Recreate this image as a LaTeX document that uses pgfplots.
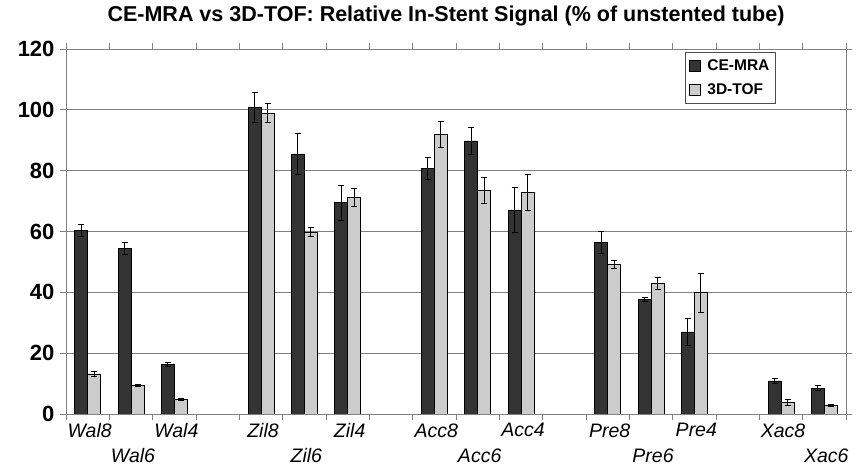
\documentclass[border=0pt]{standalone}
\usepackage{fontspec}
\setmainfont{Liberation Sans}
\usepackage{pgfplots}
\pgfplotsset{compat=1.18}
\definecolor{darkbar}{HTML}{333333}
\definecolor{lightbar}{HTML}{CCCCCC}
\definecolor{frame}{HTML}{808080}
\pgfplotsset{myerr/.style={error bars/.cd, y dir=both, y explicit,
  error bar style={black, line width=0.8pt},
  error mark options={rotate=90, mark size=3pt, black, line width=0.8pt}}}
\begin{document}
\begin{tikzpicture}
\begin{axis}[name=ax, scale only axis, width=780pt, height=365pt,
  ybar=0pt, bar width=13pt,
  xmin=-0.5, xmax=17.5, ymin=0, ymax=120,
  ytick={0,20,...,120},
  ymajorgrids, grid style={frame, line width=0.8pt},
  axis line style={frame, line width=0.8pt},
  tick style={frame, line width=0.8pt},
  tick align=outside, major tick length=6pt,
  xtick={-0.5,0.5,...,17.5}, xticklabels={},
  extra x ticks={0,1,2,4,5,6,8,9,10,12,13,14,16,17},
  extra x tick labels={Wal8,{\vphantom{Wal8}\\Wal6},Wal4,Zil8,{\vphantom{Wal8}\\Zil6},Zil4,Acc8,{\vphantom{Wal8}\\Acc6},Acc4,Pre8,{\vphantom{Wal8}\\Pre6},Pre4,Xac8,{\vphantom{Wal8}\\Xac6}},
  extra x tick style={major tick length=0pt, xticklabel style={align=center, font=\itshape\fontsize{19.5}{25}\selectfont, anchor=north, yshift=-6pt, xshift=2pt}},
  /pgf/number format/assume math mode=true,
  yticklabel style={font=\bfseries\fontsize{22}{24}\selectfont, xshift=-2pt},
  title={CE-MRA vs 3D-TOF: Relative In-Stent Signal (\% of unstented tube)},
  title style={font=\bfseries\fontsize{21.5}{25}\selectfont, at={(0.5,1)}, anchor=base, yshift=21pt, xshift=-10pt},
  legend style={at={(0.910,0.992)}, anchor=north east, draw=frame!60!black, line width=0.8pt,
    font=\bfseries\fontsize{15.5}{18}\selectfont, row sep=8pt, inner xsep=4pt, inner ysep=5pt},
  legend cell align=left,
  legend image code/.code={\draw[#1, draw=black, line width=0.6pt] (0pt,-5.5pt) rectangle (11pt,5.5pt);
    \path[use as bounding box, draw=none, fill=none] (0pt,-5.5pt) rectangle (16pt,5.5pt);},
]
\addplot[fill=darkbar, draw=black, line width=0.6pt, myerr] coordinates {
  (0,60.3) +- (0,2.0)
  (1,54.4) +- (0,2.0)
  (2,16.3) +- (0,0.6)
  (4,100.9) +- (0,4.9)
  (5,85.5) +- (0,6.7)
  (6,69.5) +- (0,5.7)
  (8,80.8) +- (0,3.6)
  (9,89.8) +- (0,4.5)
  (10,67.1) +- (0,7.4)
  (12,56.4) +- (0,3.7)
  (13,37.7) +- (0,0.7)
  (14,27.0) +- (0,4.5)
  (16,10.9) +- (0,0.7)
  (17,8.5) +- (0,0.8)
};
\addlegendentry{CE-MRA}
\addplot[fill=lightbar, draw=black, line width=0.6pt, myerr] coordinates {
  (0,13.2) +- (0,0.8)
  (1,9.3) +- (0,0.3)
  (2,4.8) +- (0,0.3)
  (4,98.9) +- (0,3.1)
  (5,59.8) +- (0,1.5)
  (6,71.2) +- (0,3.1)
  (8,91.8) +- (0,4.3)
  (9,73.5) +- (0,4.4)
  (10,72.8) +- (0,5.9)
  (12,49.2) +- (0,1.4)
  (13,42.9) +- (0,2.1)
  (14,39.9) +- (0,6.4)
  (16,3.9) +- (0,1.0)
  (17,2.8) +- (0,0.3)
};
\addlegendentry{3D-TOF}
\end{axis}
\path ([shift={(-66pt,-51pt)}]ax.south west) rectangle ([shift={(10pt,49pt)}]ax.north east);
\end{tikzpicture}
\end{document}
